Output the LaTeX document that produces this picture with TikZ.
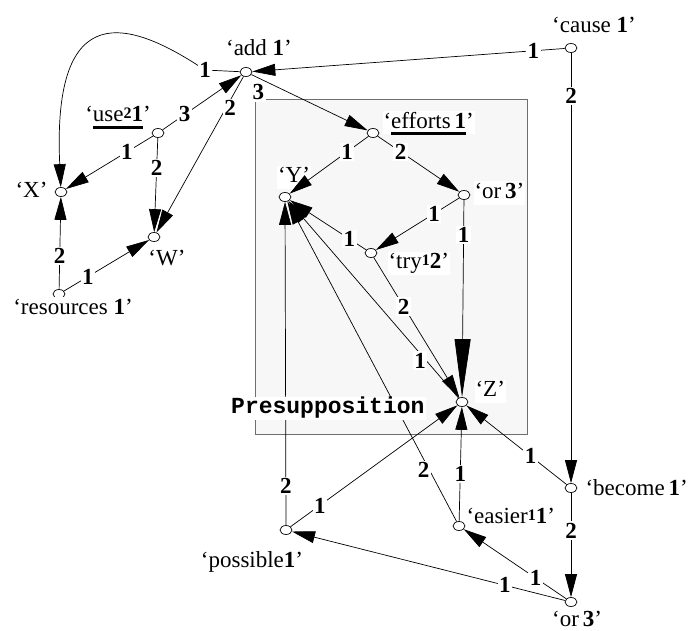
\documentclass[tikz,border=0pt]{standalone}
\usepackage{fontspec}
\setmainfont{Liberation Serif}
\newfontfamily\presfont{Liberation Mono}
\usetikzlibrary{arrows.meta, positioning, shapes.geometric}
\definecolor{my_boxgray}{RGB}{247, 247, 247}
\definecolor{my_edgegray}{RGB}{110, 110, 110}
\newsavebox\ulbox
\newcommand{\thickul}[1]{\sbox\ulbox{#1}\rlap{\rule[-7bp]{\wd\ulbox}{3bp}}\usebox\ulbox}
\newcommand{\upnum}[1]{\raisebox{3bp}{\fontsize{16bp}{16bp}\selectfont\bfseries #1}}
\tikzset {
  pred/.style = {draw, ellipse, fill=white, line width=0.7bp, minimum width=12bp, minimum height=9bp, inner sep=0pt},
  tag/.style = {fill=white, inner sep=1bp, text height=16bp, text depth=5bp, font=\fontsize{23bp}{26bp}\selectfont},
  num/.style = {fill=white, inner sep=1.5bp, font=\fontsize{23bp}{26bp}\selectfont\bfseries},
  link/.style = {->, line width=0.7bp, color=black, >={Triangle[length=23bp, width=12bp]}},
  longlink/.style = {link, >={Triangle[length=58bp, width=16bp]}},
  frame/.style = {draw=my_edgegray, fill=my_boxgray, line width=0.9bp},
  presup/.style = {fill=white, inner sep=2bp, text height=14bp, text depth=5bp, font=\presfont\fontsize{23bp}{26bp}\selectfont\bfseries}
}

\begin{document}
\begin{tikzpicture}[x=1bp, y=-1bp]
    \useasboundingbox (0,0) rectangle (695,631);
    \draw[frame] (255,99) rectangle (527,434);

    \node[pred, name=add] (add) at (246,72) {};
    \node[pred, name=cause] (cause) at (571,48) {};
    \node[pred, name=use] (use) at (158,133) {};
    \node[pred, name=efforts] (efforts) at (373,133) {};
    \node[pred, name=X] (X) at (61,192) {};
    \node[pred, name=Y] (Y) at (285,197) {};
    \node[pred, name=ortop] (ortop) at (464,195) {};
    \node[pred, name=W] (W) at (154,237) {};
    \node[pred, name=try] (try) at (371,253) {};
    \node[pred, name=Z] (Z) at (462,402) {};
    \node[pred, name=res] (res) at (59,294) {};
    \node[pred, name=possible] (possible) at (286,530) {};
    \node[pred, name=easier] (easier) at (459,526) {};
    \node[pred, name=become] (become) at (571,488) {};
    \node[pred, name=orbot] (orbot) at (571,602) {};
    \coordinate (bend) at (205,70);

    \node[tag, above=5bp of add, xshift=13bp] (addtag) {‘add \textbf{1}’};
    \node[tag, above=4bp of cause, xshift=23bp] (causetag) {‘cause \textbf{1}’};
    \node[tag, above=0bp of use, xshift=-40bp] (usetag) {‘\thickul{use\upnum{2}\textbf{1}}’};
    \node[tag, right=3bp of efforts, yshift=10bp] (effortstag) {‘\thickul{efforts\,\textbf{1}}’};
    \node[tag, left=6bp of X] (Xtag) {‘X’};
    \node[tag, above=3bp of Y, xshift=9bp] (Ytag) {‘Y’};
    \node[tag, right=3bp of ortop, yshift=2bp] (ortoptag) {‘or\,\textbf{3}’};
    \node[tag, below=6bp of W, xshift=13bp] (Wtag) {‘W’};
    \node[tag, right=10bp of try, yshift=-10bp] (trytag) {‘try\upnum{1}\textbf{2}’};
    \node[tag, right=6bp of Z, yshift=11bp] (Ztag) {‘Z’};
    \node[tag, below=-2bp of res, xshift=14bp] (restag) {‘resources \textbf{1}’};
    \node[tag, below=15bp of possible, xshift=-34bp] (possibletag) {‘possible\textbf{1}’};
    \node[tag, right=0bp of easier, yshift=8bp] (easiertag) {‘easier\upnum{1}\textbf{1}’};
    \node[tag, right=7bp of become, yshift=-2bp] (becometag) {‘become\,\textbf{1}’};
    \node[tag, below=2bp of orbot, xshift=6bp] (orbottag) {‘or\,\textbf{3}’};

    \draw[link] (add) -- (bend) node[num] {1} .. controls (130,20) and (52,-5) .. (X);
    \draw[link] (cause) -- node[num, pos=0.10] {1} (add);
    \draw[link] (cause) -- node[num, pos=0.10] {2} (become);
    \draw[link] (add) -- node[num, pos=0.12, xshift=-7bp, yshift=-11bp] {3} (efforts);
    \draw[link] (add) -- node[num, pos=0.2, xshift=4bp] {2} (W);
    \draw[link] (use) -- node[num, pos=0.28] {3} (add);
    \draw[link] (use) -- node[num, pos=0.30] {1} (X);
    \draw[link] (use) -- node[num, pos=0.32] {2} (W);
    \draw[link] (res) -- node[num, pos=0.36] {2} (X);
    \draw[link] (res) -- node[num, pos=0.28] {1} (W);
    \draw[link] (efforts) -- node[num, pos=0.27] {1} (Y);
    \draw[link] (efforts) -- node[num, pos=0.28] {2} (ortop);
    \draw[link] (ortop) -- node[num, pos=0.30] {1} (try);
    \draw[longlink] (ortop) -- node[num, pos=0.18] {1} (Z);
    \draw[link] (try) -- node[num, pos=0.22] {1} (Y);
    \draw[link] (try) -- node[num, pos=0.35] {2} (Z);
    \draw[link] (Z) -- node[num, pos=0.19, xshift=-6bp] {1} (Y);
    \draw[link] (easier) -- node[num, pos=0.16, xshift=-6bp] {2} (Y);
    \draw[link] (possible) -- node[num, pos=0.12] {2} (Y);
    \draw[link] (possible) -- node[num, pos=0.175] {1} (Z);
    \draw[link] (easier) -- node[num, pos=0.41] {1} (Z);
    \draw[link] (become) -- node[num, pos=0.36] {1} (Z);
    \draw[link] (become) -- node[num, pos=0.36] {2} (orbot);
    \draw[link] (orbot) -- node[num, pos=0.30] {1} (easier);
    \draw[link] (orbot) -- node[num, pos=0.22] {1} (possible);

    \node[presup, left=29bp of Z, yshift=-6.5bp] (presup) {Presupposition};
\end{tikzpicture}
\end{document}
